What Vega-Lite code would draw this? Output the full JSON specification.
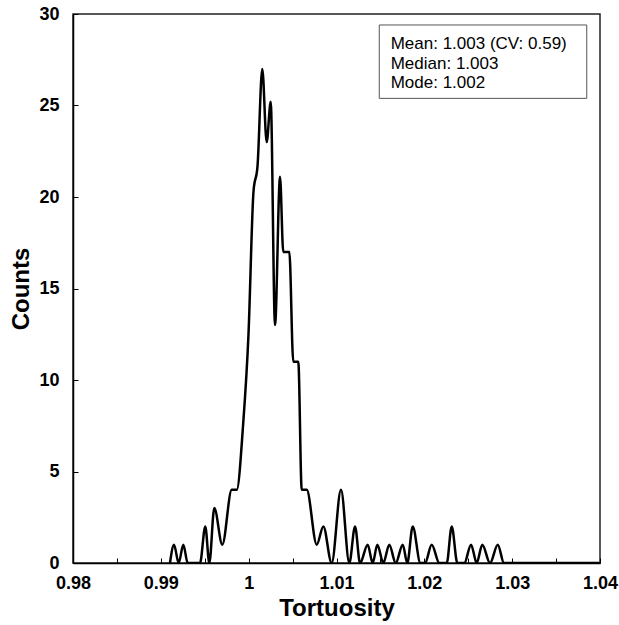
{
  "$schema": "https://vega.github.io/schema/vega-lite/v6.json",
  "width": 527,
  "height": 549,
  "autosize": "none",
  "padding": {"left": 73, "top": 14, "right": 19, "bottom": 62},
  "background": "white",
  "config": {
    "view": {"stroke": "#222", "strokeWidth": 1.5},
    "font": "Liberation Sans",
    "axis": {
      "grid": false,
      "domainColor": "#000",
      "domainWidth": 1.5,
      "tickColor": "#000",
      "tickWidth": 1,
      "tickSize": -5,
      "labelFont": "Liberation Sans",
      "labelFontWeight": "bold",
      "labelFontSize": 18,
      "labelColor": "#000",
      "titleFont": "Liberation Sans",
      "titleFontWeight": "bold",
      "titleFontSize": 24,
      "titleColor": "#000"
    }
  },
  "layer": [
    {
      "data": {
        "values": [
          {"x": 0.99104, "count": 0},
          {"x": 0.99150, "count": 1},
          {"x": 0.99203, "count": 0},
          {"x": 0.99256, "count": 1},
          {"x": 0.99306, "count": 0},
          {"x": 0.99446, "count": 0},
          {"x": 0.99506, "count": 2},
          {"x": 0.99552, "count": 0},
          {"x": 0.99609, "count": 3},
          {"x": 0.99700, "count": 1},
          {"x": 0.99807, "count": 4},
          {"x": 0.99864, "count": 4},
          {"x": 0.99936, "count": 7.5},
          {"x": 0.99998, "count": 12.5},
          {"x": 1.00055, "count": 20.3},
          {"x": 1.00101, "count": 21.7},
          {"x": 1.00155, "count": 27},
          {"x": 1.00205, "count": 23},
          {"x": 1.00251, "count": 25.2},
          {"x": 1.00300, "count": 13},
          {"x": 1.00357, "count": 21.1},
          {"x": 1.00394, "count": 17},
          {"x": 1.00463, "count": 17},
          {"x": 1.00508, "count": 11},
          {"x": 1.00565, "count": 11},
          {"x": 1.00604, "count": 4},
          {"x": 1.00661, "count": 4},
          {"x": 1.00775, "count": 1},
          {"x": 1.00850, "count": 2},
          {"x": 1.00945, "count": 0},
          {"x": 1.01051, "count": 4},
          {"x": 1.01146, "count": 0},
          {"x": 1.01211, "count": 2},
          {"x": 1.01268, "count": 0},
          {"x": 1.01355, "count": 1},
          {"x": 1.01412, "count": 0},
          {"x": 1.01465, "count": 1},
          {"x": 1.01533, "count": 0},
          {"x": 1.01601, "count": 1},
          {"x": 1.01674, "count": 0},
          {"x": 1.01754, "count": 1},
          {"x": 1.01806, "count": 0},
          {"x": 1.01868, "count": 2},
          {"x": 1.01955, "count": 0},
          {"x": 1.02008, "count": 0},
          {"x": 1.02084, "count": 1},
          {"x": 1.02171, "count": 0},
          {"x": 1.02255, "count": 0},
          {"x": 1.02312, "count": 2},
          {"x": 1.02376, "count": 0},
          {"x": 1.02455, "count": 0},
          {"x": 1.02532, "count": 1},
          {"x": 1.02596, "count": 0},
          {"x": 1.02660, "count": 1},
          {"x": 1.02748, "count": 0},
          {"x": 1.02836, "count": 1},
          {"x": 1.02907, "count": 0},
          {"x": 1.04, "count": 0}
        ]
      },
      "mark": {"type": "line", "interpolate": "monotone", "color": "#000", "strokeWidth": 2.5, "clip": true},
      "encoding": {
        "x": {
          "field": "x",
          "type": "quantitative",
          "title": "Tortuosity",
          "scale": {"domain": [0.98, 1.04], "nice": false, "zero": false},
          "axis": {
            "values": [0.98, 0.985, 0.99, 0.995, 1, 1.005, 1.01, 1.015, 1.02, 1.025, 1.03, 1.035, 1.04],
            "labelExpr": "abs(datum.value * 100 - round(datum.value * 100)) < 0.01 ? format(datum.value, '~g') : ''",
            "labelPadding": 16,
            "titlePadding": 4,
            "labelFlush": false
          }
        },
        "y": {
          "field": "count",
          "type": "quantitative",
          "title": "Counts",
          "scale": {"domain": [0, 30], "nice": false},
          "axis": {
            "values": [0, 5, 10, 15, 20, 25, 30],
            "labelPadding": 19,
            "titlePadding": 5
          }
        }
      }
    },
    {
      "data": {"values": [{"box": "stats"}]},
      "mark": {"type": "rect", "fill": "white", "stroke": "#555", "strokeWidth": 1},
      "encoding": {
        "x": {"datum": 1.01487, "type": "quantitative"},
        "x2": {"datum": 1.03849},
        "y": {"datum": 29.4, "type": "quantitative"},
        "y2": {"datum": 25.39}
      }
    },
    {
      "data": {"values": [{"box": "stats"}]},
      "mark": {
        "type": "text",
        "text": ["Mean: 1.003 (CV: 0.59)", "Median: 1.003", "Mode: 1.002"],
        "align": "left",
        "baseline": "middle",
        "fontSize": 17,
        "lineHeight": 19.7,
        "font": "Liberation Sans",
        "color": "#000"
      },
      "encoding": {
        "x": {"datum": 1.01617, "type": "quantitative"},
        "y": {"datum": 28.36, "type": "quantitative"}
      }
    }
  ]
}
